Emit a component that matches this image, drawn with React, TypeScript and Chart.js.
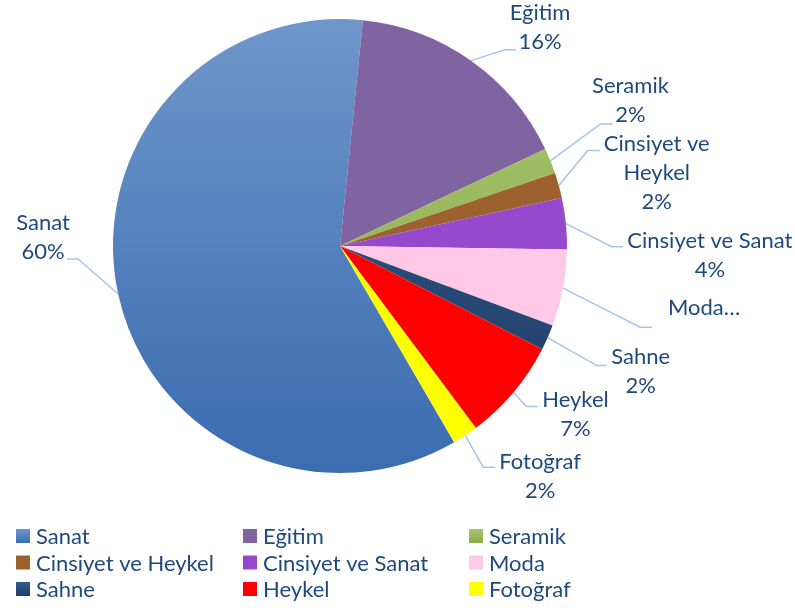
import React, { useEffect, useRef } from "react";
import { Chart, registerables } from "chart.js";

Chart.register(...registerables);

// ---- data ----
const categories = [
  "Sanat",
  "Eğitim",
  "Seramik",
  "Cinsiyet ve Heykel",
  "Cinsiyet ve Sanat",
  "Moda",
  "Sahne",
  "Heykel",
  "Fotoğraf",
];
const counts = [33, 9, 1, 1, 2, 3, 1, 4, 1];
const labelNameLines = [
  ["Sanat"],
  ["Eğitim"],
  ["Seramik"],
  ["Cinsiyet ve", "Heykel"],
  ["Cinsiyet ve Sanat"],
  ["Moda…"],
  ["Sahne"],
  ["Heykel"],
  ["Fotoğraf"],
];
const labelShowsPercent = [true, true, true, true, true, false, true, true, true];

// ---- styles ----
const colorsTop = ["#6f96ca", "#8064a2", "#a6c56c", "#9c612e", "#9549cc", "#ffc8e7", "#355a8a", "#ff0000", "#ffff00"];
const colorsBottom = ["#3a6cb0", "#8064a2", "#8dac4c", "#9c612e", "#9549cc", "#ffc8e7", "#1f3d66", "#ff0000", "#ffff00"];
const FONT = "Lato, 'Open Sans', sans-serif";
const TEXT_COLOR = "#1F497D";
const LEADER_COLOR = "#a3c4e8";

// label layout: elbow offset (ex, ey) from the slice's outer midpoint, horizontal tail h, text centre (tx, ty)
const labelLayout = [
  { ex: -40, ey: -35, h: -11, tx: -75, ty: -57 },
  { ex: 34, ey: -11, h: 11, tx: 69, ty: -33 },
  { ex: 50, ey: -37, h: 12, tx: 80, ty: -60 },
  { ex: 29, ey: -35, h: 12, tx: 98, ty: -13 },
  { ex: 46, ey: 23, h: 11, tx: 144, ty: 32 },
  { ex: 77, ey: 39, h: 12, tx: 141, ty: 20 },
  { ex: 49, ey: 28, h: 10, tx: 93, ty: 34 },
  { ex: 13, ey: 14, h: 11, tx: 62, ty: 22 },
  { ex: 18, ey: 32, h: 12, tx: 75, ty: 41 },
];
const legendColumnsX = [16, 243, 469];
const legendRowsY = [536, 562.5, 589];

function makeGradient(ctx: CanvasRenderingContext2D, i: number, y0: number, y1: number) {
  const g = ctx.createLinearGradient(0, y0, 0, y1);
  g.addColorStop(0, colorsTop[i]);
  g.addColorStop(1, colorsBottom[i]);
  return g;
}

const labelPlugin = {
  id: "pieLabels",
  afterDatasetsDraw(chart: any) {
    const ctx: CanvasRenderingContext2D = chart.ctx;
    const meta = chart.getDatasetMeta(0);
    const total = counts.reduce((a, b) => a + b, 0);
    ctx.save();
    ctx.font = `22px ${FONT}`;
    ctx.fillStyle = TEXT_COLOR;
    ctx.textAlign = "center";
    ctx.textBaseline = "middle";
    meta.data.forEach((arc: any, i: number) => {
      const p = arc.getProps(["x", "y", "startAngle", "endAngle", "outerRadius"], true);
      const mid = (p.startAngle + p.endAngle) / 2;
      const px = p.x + Math.cos(mid) * p.outerRadius;
      const py = p.y + Math.sin(mid) * p.outerRadius;
      const L = labelLayout[i];
      ctx.strokeStyle = LEADER_COLOR;
      ctx.lineWidth = 1.5;
      ctx.beginPath();
      ctx.moveTo(px, py);
      ctx.lineTo(px + L.ex, py + L.ey);
      ctx.lineTo(px + L.ex + L.h, py + L.ey);
      ctx.stroke();
      const lines = [...labelNameLines[i]];
      if (labelShowsPercent[i]) lines.push(Math.round((counts[i] / total) * 100) + "%");
      const cx = px + L.tx;
      const cy = py + L.ty;
      const lh = 29;
      lines.forEach((t, k) => {
        ctx.fillText(t, cx, cy + (k - (lines.length - 1) / 2) * lh);
      });
    });
    ctx.restore();
  },
  afterDraw(chart: any) {
    const ctx: CanvasRenderingContext2D = chart.ctx;
    ctx.save();
    ctx.font = `22px ${FONT}`;
    ctx.textAlign = "left";
    ctx.textBaseline = "middle";
    categories.forEach((name, i) => {
      const bx = legendColumnsX[i % 3];
      const by = legendRowsY[Math.floor(i / 3)];
      ctx.fillStyle = makeGradient(ctx, i, by - 7, by + 7);
      ctx.fillRect(bx, by - 7, 14, 14);
      ctx.fillStyle = TEXT_COLOR;
      ctx.fillText(name, bx + 20, by + 1);
    });
    ctx.restore();
  },
};

export default function App() {
  const ref = useRef<HTMLCanvasElement | null>(null);
  useEffect(() => {
    if (!ref.current) return;
    const chart = new Chart(ref.current, {
      type: "pie",
      data: {
        labels: categories,
        datasets: [
          {
            data: counts,
            backgroundColor: (c: any) => {
              const area = c.chart.chartArea;
              if (!area) return colorsBottom[c.dataIndex];
              return makeGradient(c.chart.ctx, c.dataIndex, area.top, area.bottom);
            },
            borderWidth: 0,
          },
        ],
      },
      options: {
        responsive: false,
        animation: false,
        devicePixelRatio: 1,
        rotation: 149.8,
        layout: { padding: { left: 113, right: 228, top: 19, bottom: 135 } },
        plugins: {
          legend: { display: false },
          tooltip: { enabled: false },
        },
      },
      plugins: [labelPlugin],
    });
    return () => chart.destroy();
  }, []);
  return (
    <div style={{ position: "absolute", left: 0, top: 0, width: 795, height: 608, background: "#fff" }}>
      <canvas ref={ref} width={795} height={608} />
    </div>
  );
}
